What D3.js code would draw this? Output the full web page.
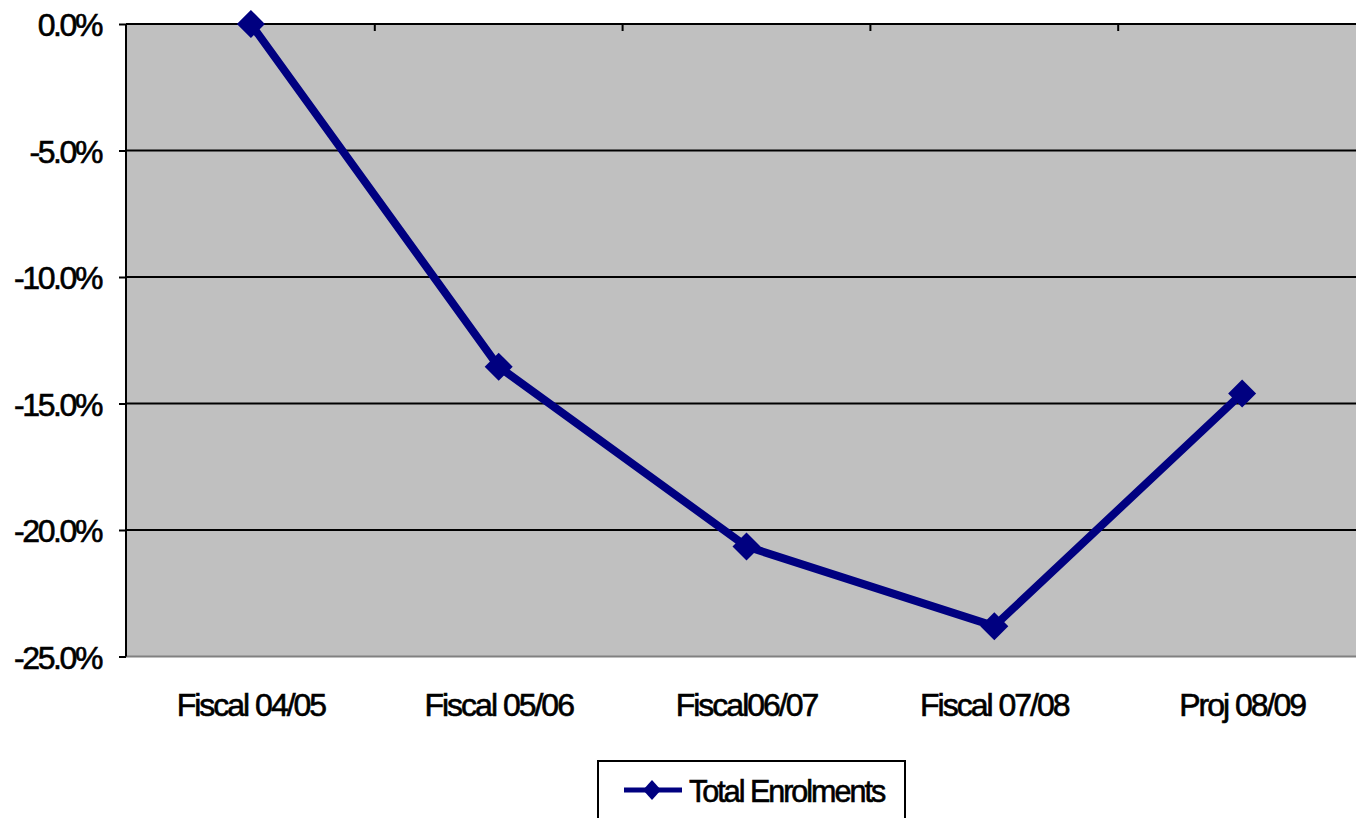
<!DOCTYPE html>
<html>
<head>
<meta charset="utf-8">
<script src="https://cdn.jsdelivr.net/npm/d3@7"></script>
<style>
  html, body { margin: 0; padding: 0; background: #fff; overflow: hidden; }
  text { font-family: "Liberation Sans", Arial, sans-serif; fill: #000; stroke: #000; stroke-width: 0.6px; }
</style>
</head>
<body>
<svg id="chart" width="1356" height="818"></svg>
<script>
// Year-over-year change in total enrolments, relative to fiscal 04/05
const categories = ["Fiscal 04/05", "Fiscal 05/06", "Fiscal06/07", "Fiscal 07/08", "Proj 08/09"];
const enrolmentChange = [0.0, -13.55, -20.65, -23.8, -14.6];
const yTicks = [0, -5, -10, -15, -20, -25];
const seriesName = "Total Enrolments";

const svg = d3.select("#chart");
const plot = { left: 126, right: 1366, top: 24, bottom: 656.5 };
const navy = "#000080";

const x = d3.scaleBand().domain(categories).range([plot.left + 1, plot.right]);
const y = d3.scaleLinear().domain([-25, 0]).range([plot.bottom, plot.top]);

// plot area
svg.append("rect")
  .attr("x", plot.left).attr("y", plot.top)
  .attr("width", plot.right - plot.left).attr("height", plot.bottom - plot.top)
  .attr("fill", "#c0c0c0");

// horizontal gridlines
svg.append("g").selectAll("line").data(yTicks.filter(d => d > -25)).join("line")
  .attr("x1", plot.left).attr("x2", plot.right)
  .attr("y1", d => y(d)).attr("y2", d => y(d))
  .attr("stroke", "#000").attr("stroke-width", 2);

// bottom border of plot area
svg.append("line")
  .attr("x1", plot.left).attr("x2", plot.right)
  .attr("y1", plot.bottom).attr("y2", plot.bottom)
  .attr("stroke", "#808080").attr("stroke-width", 2);

// value axis, labels with a plain hyphen for negatives
const yAxis = svg.append("g").attr("transform", `translate(${plot.left},0)`)
  .call(d3.axisLeft(y).tickValues(yTicks).tickSize(7).tickPadding(0)
    .tickFormat(d => d.toFixed(1) + "%"));
yAxis.select(".domain").remove();
yAxis.selectAll(".tick line").attr("stroke", "#000").attr("stroke-width", 2);
yAxis.selectAll(".tick text")
  .attr("x", -25).attr("dy", "0.36em")
  .attr("fill", "#000")
  .style("font-size", "32px").style("letter-spacing", "-2.4px");
svg.append("line")
  .attr("x1", plot.left).attr("x2", plot.left)
  .attr("y1", plot.top).attr("y2", plot.bottom)
  .attr("stroke", "#000").attr("stroke-width", 2);

// category axis crosses at 0%; tick marks between categories point into the plot
const bounds = categories.slice(1).map(c => x(c));
svg.append("g").selectAll("line").data(bounds).join("line")
  .attr("x1", d => d).attr("x2", d => d)
  .attr("y1", plot.top).attr("y2", plot.top + 7)
  .attr("stroke", "#000").attr("stroke-width", 2);

// category labels at the bottom
svg.append("g").selectAll("text").data(categories).join("text")
  .attr("x", d => x(d) + x.bandwidth() / 2)
  .attr("y", 716)
  .attr("text-anchor", "middle")
  .style("font-size", "32px").style("letter-spacing", "-2px")
  .text(d => d);

// series line
const line = d3.line()
  .x((d, i) => x(categories[i]) + x.bandwidth() / 2)
  .y(d => y(d));
svg.append("path").datum(enrolmentChange)
  .attr("d", line)
  .attr("fill", "none").attr("stroke", navy)
  .attr("stroke-width", 8).attr("stroke-linejoin", "round");

// diamond markers
const diamond = (rx, ry) => `M0,${-ry}L${rx},0L0,${ry}L${-rx},0Z`;
svg.append("g").selectAll("path").data(enrolmentChange).join("path")
  .attr("transform", (d, i) => `translate(${x(categories[i]) + x.bandwidth() / 2},${y(d)})`)
  .attr("d", diamond(14, 14))
  .attr("fill", navy);

// legend
const legend = svg.append("g");
legend.append("rect")
  .attr("x", 598).attr("y", 761).attr("width", 307).attr("height", 70)
  .attr("fill", "#fff").attr("stroke", "#000").attr("stroke-width", 2);
legend.append("line")
  .attr("x1", 624).attr("x2", 682).attr("y1", 790).attr("y2", 790)
  .attr("stroke", navy).attr("stroke-width", 5);
legend.append("path")
  .attr("transform", "translate(652,790)")
  .attr("d", diamond(9, 10)).attr("fill", navy);
legend.append("text")
  .attr("x", 689).attr("y", 802)
  .style("font-size", "30.5px").style("letter-spacing", "-2px")
  .text(seriesName);
</script>
</body>
</html>
